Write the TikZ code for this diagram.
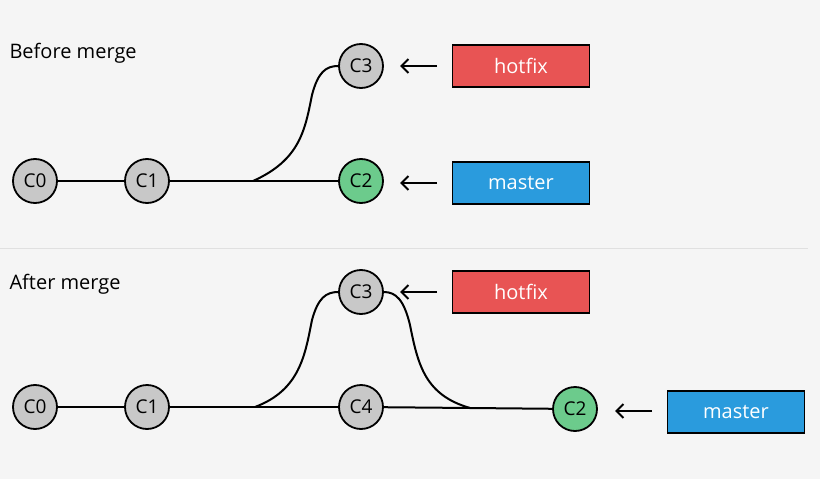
\documentclass[tikz,border=0pt]{standalone}
\usepackage{fontspec}
\setmainfont{Open Sans}
\usetikzlibrary{arrows.meta}
\definecolor{bg}{HTML}{F5F5F5}
\definecolor{cg}{HTML}{C8C8C8}
\definecolor{cgr}{HTML}{6CCB8C}
\definecolor{hred}{HTML}{E85454}
\definecolor{mblue}{HTML}{2A9BDD}
\begin{document}
\begin{tikzpicture}[x=1pt,y=-1pt,
  commit/.style={circle,draw=black,line width=1.8pt,fill=cg,minimum size=44pt,inner sep=0pt,font=\fontsize{19}{19}\selectfont},
  head/.style={commit,fill=cgr},
  lbl/.style={draw=black,line width=1.8pt,minimum width=137pt,minimum height=42pt,inner sep=0pt,text=white,font=\fontsize{20}{20}\selectfont},
  ptr/.style={line width=2pt,-{Straight Barb[length=7pt,width=14pt]}},
  ln/.style={line width=2pt},
  ttl/.style={anchor=west,font=\fontsize{20}{20}\selectfont}]
\fill[bg] (0,0) rectangle (820,479);
\useasboundingbox (0,0) rectangle (820,479);
\node[ttl] (t1) at (6,53) {Before merge};
\node[ttl] (t2) at (6,284) {After merge};
\draw[black!12,line width=0.8pt] (0,248) -- (808,248);
% before
\node[commit] (a0) at (35,181) {C0};
\node[commit] (a1) at (147,181) {C1};
\node[commit] (a3) at (361,66) {C3};
\node[head] (a2) at (361,181) {C2};
\coordinate (af) at (253,181);
\draw[ln] (a0) -- (a1);
\draw[ln] (a1) -- (a2);
\draw[ln] (af) .. controls (300,160) and (305,130) .. (312,95) .. controls (318,72) and (326,66) .. (a3.west);
\node[lbl,fill=hred] (hf1) at (521,66) {hotfix};
\node[lbl,fill=mblue] (ms1) at (521,183) {master};
\coordinate (p1) at (437,66); \coordinate (q1) at (400,66);
\coordinate (p2) at (437,183); \coordinate (q2) at (400,183);
\draw[ptr] (p1) -- (q1);
\draw[ptr] (p2) -- (q2);
% after
\node[commit] (b0) at (35,407) {C0};
\node[commit] (b1) at (147,407) {C1};
\node[commit] (b3) at (361,292) {C3};
\node[commit] (b4) at (361,407) {C4};
\node[head] (b2) at (575,409) {C2};
\coordinate (bf) at (255,407);
\coordinate (bm) at (470,408);
\draw[ln] (b0) -- (b1);
\draw[ln] (b1) -- (b4);
\draw[ln] (b4) -- (bm);
\draw[ln] (bm) -- (b2);
\draw[ln] (bf) .. controls (300,390) and (305,355) .. (312,320) .. controls (318,298) and (326,292) .. (b3.west);
\draw[ln] (b3.east) .. controls (396,292) and (404,300) .. (410,325) .. controls (418,365) and (425,395) .. (bm);
\node[lbl,fill=hred] (hf2) at (521,292) {hotfix};
\node[lbl,fill=mblue] (ms2) at (736,412) {master};
\coordinate (p3) at (437,292); \coordinate (q3) at (400,292);
\coordinate (p4) at (652,411); \coordinate (q4) at (615,411);
\draw[ptr] (p3) -- (q3);
\draw[ptr] (p4) -- (q4);
\end{tikzpicture}
\end{document}
